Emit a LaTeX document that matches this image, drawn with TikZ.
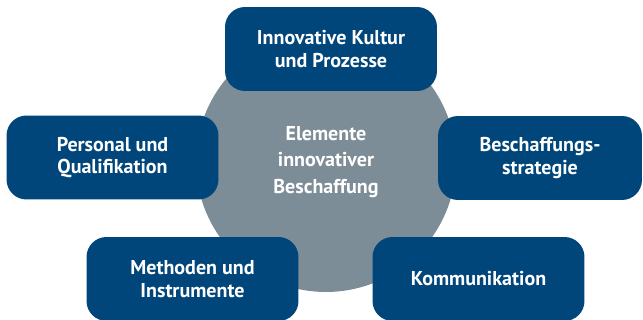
\documentclass[tikz,border=0pt]{standalone}
\usepackage{fontspec}
\setmainfont{PT Sans}
\definecolor{bundblau}{RGB}{0,70,122}
\definecolor{kreisgrau}{RGB}{125,141,151}
\begin{document}
\begin{tikzpicture}[x=0.02cm,y=-0.02cm,
    element/.style={fill=bundblau,rounded corners=0.4cm,inner sep=0pt,
      minimum width=4.24cm,minimum height=1.68cm,text=white,align=center,
      font=\fontsize{11.4}{12.9}\selectfont\bfseries},
    kern/.style={circle,fill=kreisgrau,inner sep=0pt,minimum size=5.2cm,
      text=white,align=center,font=\fontsize{11.4}{15}\selectfont\bfseries}]
      \useasboundingbox (0,0) rectangle (643,320);
      \clip (0,0) rectangle (643,320);
      \draw
        (326,162) node[kern] (elemente){Elemente\\innovativer\\Beschaffung};
      \draw
        (331,49) node[element] (kultur){Innovative Kultur\\und Prozesse}
        (112.5,157.5) node[element] (personal){Personal und\\Qualifikation}
        (540,158) node[element,minimum width=4.08cm] (strategie){Beschaffungs-\\strategie}
        (192.5,279) node[element] (methoden){Methoden und\\Instrumente}
        (478.5,279) node[element] (kommunikation){Kommunikation};
    \end{tikzpicture}
\end{document}
